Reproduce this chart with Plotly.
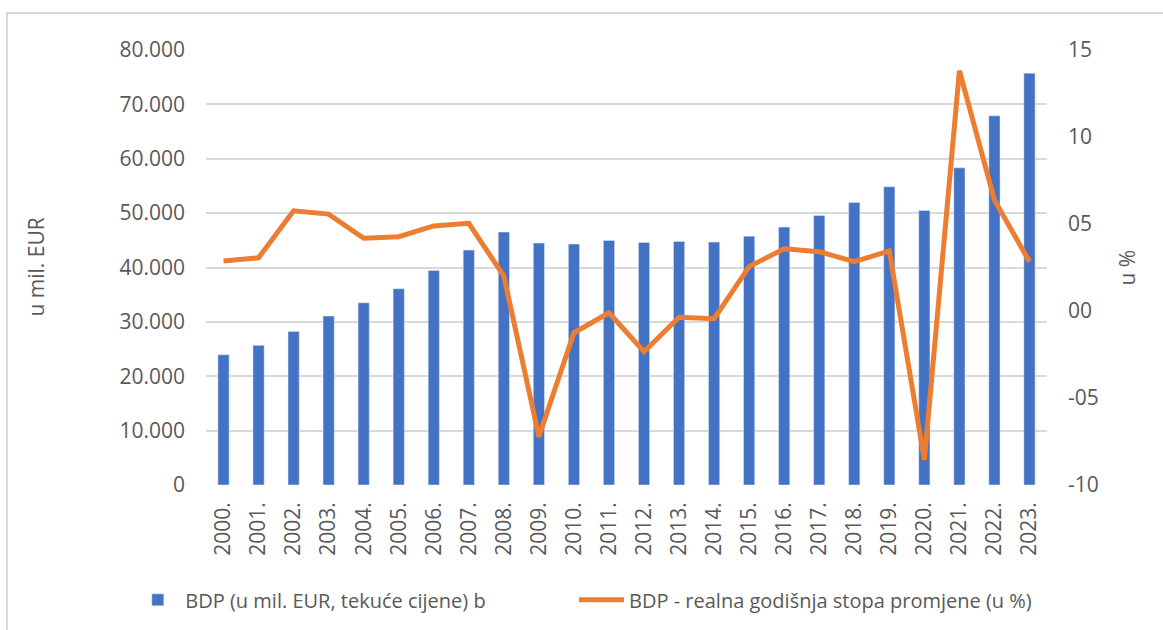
import plotly.graph_objects as go
from plotly.subplots import make_subplots

years = [f"{y}." for y in range(2000, 2024)]
bdp = [23950, 25680, 28250, 31070, 33510, 36090, 39470, 43200, 46510, 44490,
       44300, 44980, 44610, 44790, 44670, 45770, 47430, 49570, 51960, 54840,
       50490, 58330, 67890, 75740]
rast = [2.87, 3.06, 5.76, 5.57, 4.18, 4.27, 4.89, 5.04, 2.01, -7.22,
        -1.25, -0.1, -2.34, -0.36, -0.44, 2.55, 3.58, 3.41, 2.83, 3.45,
        -8.56, 13.81, 6.38, 2.83]

left_ticks = [0, 10000, 20000, 30000, 40000, 50000, 60000, 70000, 80000]
left_labels = ["0", "10.000", "20.000", "30.000", "40.000", "50.000", "60.000", "70.000", "80.000"]
right_ticks = [-10, -5, 0, 5, 10, 15]
right_labels = ["-10", "-05", "00", "05", "10", "15"]

txt = "#595959"
grid = "#D9D9D9"
font = "Open Sans"

fig = make_subplots(specs=[[{"secondary_y": True}]])

fig.add_trace(
    go.Bar(x=years, y=bdp, name="BDP (u mil. EUR, tekuće cijene) b",
           marker_color="#4472C4", legend="legend"),
    secondary_y=False,
)
fig.add_trace(
    go.Scatter(x=years, y=rast, name="BDP - realna godišnja stopa promjene (u %)",
               mode="lines", line=dict(color="#ED7D31", width=5), legend="legend2"),
    secondary_y=True,
)

legend_style = dict(orientation="h", y=-0.264, yanchor="middle", xanchor="left",
                    font=dict(size=20, color=txt), itemwidth=45,
                    bgcolor="rgba(0,0,0,0)")

fig.update_layout(
    width=1163, height=630,
    margin=dict(l=206, r=116, t=50, b=145, autoexpand=False),
    plot_bgcolor="white", paper_bgcolor="white",
    bargap=0.68,
    font=dict(family=font, color=txt, size=21),
    showlegend=True,
    legend=dict(x=-0.09, **legend_style),
    legend2=dict(x=0.4376, **legend_style),
    shapes=[dict(type="rect", xref="paper", yref="paper",
                 x0=-0.2366, x1=1.14, y0=-0.34, y1=1.085,
                 line=dict(color=grid, width=2), layer="below")],
    annotations=[
        dict(text="u mil. EUR", xref="paper", yref="paper", x=-0.2033, y=0.5,
             textangle=-90, showarrow=False, xanchor="center", yanchor="middle",
             font=dict(size=21, color=txt)),
        dict(text="u %", xref="paper", yref="paper", x=1.0951, y=0.5,
             textangle=-90, showarrow=False, xanchor="center", yanchor="middle",
             font=dict(size=21, color=txt)),
    ],
)

fig.update_xaxes(domain=[0, 1], tickangle=-90, showline=False, showgrid=False, ticks="",
                 ticklabelstandoff=12, automargin=False)
fig.update_yaxes(range=[0, 80000], tickvals=left_ticks, ticktext=left_labels,
                 showgrid=True, gridcolor=grid, gridwidth=2, zeroline=False,
                 ticks="", ticklabelstandoff=20, automargin=False, secondary_y=False)
fig.update_yaxes(range=[-10, 15], tickvals=right_ticks, ticktext=right_labels,
                 showgrid=False, zeroline=False, ticks="", ticklabelstandoff=20,
                 automargin=False, secondary_y=True)

# the page's default body margin would shift the chart by 8px
fig.write_html("out.html", config={"displayModeBar": False},
               post_script="document.body.style.margin='0';")
